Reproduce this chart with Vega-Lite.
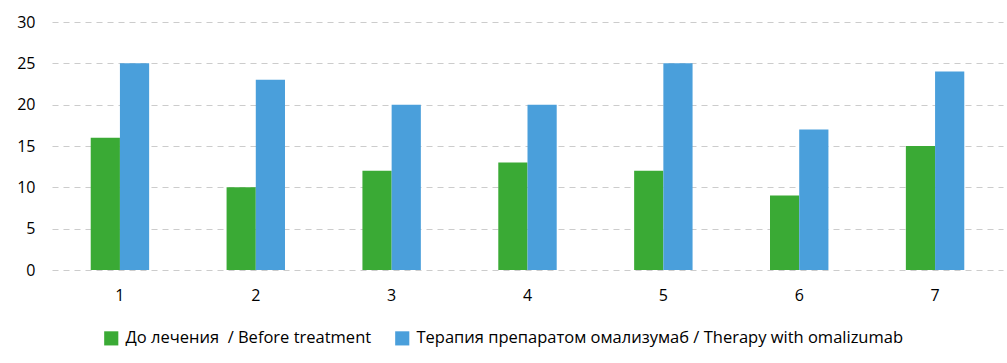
{
  "$schema": "https://vega.github.io/schema/vega-lite/v6.json",
  "width": 951,
  "height": 248,
  "autosize": {"type": "none"},
  "padding": {"left": 52, "top": 22, "right": 4, "bottom": 93},
  "background": "white",
  "data": {"values": [
    {"g": "1", "s": "До лечения\u00a0\u00a0/ Before treatment", "v": 16},
    {"g": "1", "s": "Терапия препаратом омализумаб / Therapy with omalizumab", "v": 25},
    {"g": "2", "s": "До лечения\u00a0\u00a0/ Before treatment", "v": 10},
    {"g": "2", "s": "Терапия препаратом омализумаб / Therapy with omalizumab", "v": 23},
    {"g": "3", "s": "До лечения\u00a0\u00a0/ Before treatment", "v": 12},
    {"g": "3", "s": "Терапия препаратом омализумаб / Therapy with omalizumab", "v": 20},
    {"g": "4", "s": "До лечения\u00a0\u00a0/ Before treatment", "v": 13},
    {"g": "4", "s": "Терапия препаратом омализумаб / Therapy with omalizumab", "v": 20},
    {"g": "5", "s": "До лечения\u00a0\u00a0/ Before treatment", "v": 12},
    {"g": "5", "s": "Терапия препаратом омализумаб / Therapy with omalizumab", "v": 25},
    {"g": "6", "s": "До лечения\u00a0\u00a0/ Before treatment", "v": 9},
    {"g": "6", "s": "Терапия препаратом омализумаб / Therapy with omalizumab", "v": 17},
    {"g": "7", "s": "До лечения\u00a0\u00a0/ Before treatment", "v": 15},
    {"g": "7", "s": "Терапия препаратом омализумаб / Therapy with omalizumab", "v": 24}
  ]},
  "mark": {"type": "bar"},
  "encoding": {
    "x": {"field": "g", "type": "nominal", "sort": null,
      "scale": {"paddingInner": 0.57, "paddingOuter": 0.285},
      "axis": {"title": null, "labelAngle": 0, "domain": false, "ticks": false, "labelPadding": 17,
        "labelFont": "Open Sans", "labelFontSize": 16, "labelColor": "#000"}},
    "xOffset": {"field": "s", "type": "nominal", "sort": null, "scale": {"paddingInner": 0, "paddingOuter": 0}},
    "y": {"field": "v", "type": "quantitative",
      "scale": {"domain": [0, 30], "nice": false},
      "axis": {"title": null, "values": [0, 5, 10, 15, 20, 25, 30], "domain": false, "ticks": false,
        "labelPadding": 17, "labelFont": "Open Sans", "labelFontSize": 16, "labelColor": "#000",
        "gridColor": "#cccccc", "gridDash": [6, 5], "gridWidth": 1.2}},
    "color": {"field": "s", "type": "nominal", "sort": null,
      "scale": {"range": ["#3aaa35", "#4a9fdb"]},
      "legend": {"title": null, "orient": "none", "legendX": 51, "legendY": 308, "direction": "horizontal",
        "symbolType": "square", "symbolSize": 200, "symbolStrokeWidth": 0, "symbolOpacity": 1,
        "labelFont": "Open Sans", "labelFontSize": 16.5, "labelColor": "#000", "labelLimit": 600,
        "columnPadding": 22, "labelOffset": 6}}
  },
  "config": {"view": {"stroke": null}}
}
